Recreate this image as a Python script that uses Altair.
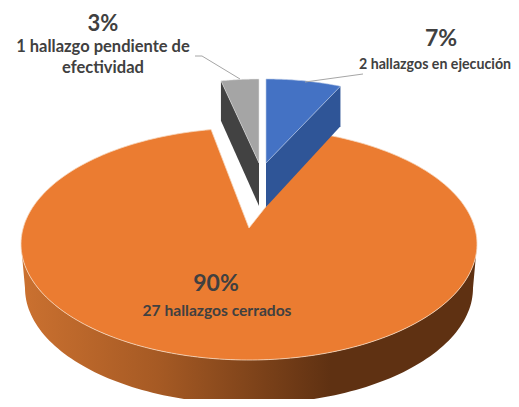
import math
import altair as alt

# ---- values
names = ["2 hallazgos en ejecución", "27 hallazgos cerrados", "1 hallazgo pendiente de efectividad"]
counts = [2, 27, 1]
percents = ["7%", "90%", "3%"]

total = sum(counts)
blue_angle = math.radians(360 * counts[0] / total)
gray_angle = math.radians(360 * counts[2] / total)

PERSPECTIVE = 0.8
OFF = 8  # page margin
W, H = 503, 391


def pt(x, y):
    return [x - OFF, y - OFF]


def arc(cx, cy, rx, ry, a0, a1, n=120):
    out = []
    for i in range(n + 1):
        a = a0 + (a1 - a0) * i / n
        out.append(pt(cx + rx * math.sin(a), cy - ry * math.cos(a)))
    return out


def poly(points):
    return {"type": "Feature", "properties": {},
            "geometry": {"type": "Polygon", "coordinates": [points + [points[0]]]}}


def line(points):
    return {"type": "Feature", "properties": {},
            "geometry": {"type": "LineString", "coordinates": points}}


def shape(feature, **mark):
    return alt.Chart(alt.Data(values=[feature])).mark_geoshape(**mark).project(
        type="identity", scale=1, translate=[0, 0])


# big slice
CX, CY, RX, RY = 249, 244, 228, 116
DEPTH_CY, DEPTH_RX = 288, 224
apex_o = pt(249, 228)
start = math.asin(PERSPECTIVE * math.sin(blue_angle))
end = 2 * math.pi - math.asin(PERSPECTIVE * math.sin(gray_angle))
orange_top = [apex_o] + arc(CX, CY, RX, RY, start, end, 240)
orange_wall = arc(CX, CY, RX, RY, math.pi / 2, 3 * math.pi / 2) + arc(
    CX, DEPTH_CY, DEPTH_RX, RY, 3 * math.pi / 2, math.pi / 2)

# small slices
SR_X, SR_Y = 183, 84
bx, by = 266, 163
gx, gy = 259, 163
DEPTH = 43
blue_top = [pt(bx, by)] + arc(bx, by, SR_X, SR_Y, 0, blue_angle, 30)
bc = (bx + SR_X * math.sin(blue_angle), by - SR_Y * math.cos(blue_angle))
blue_wall = [pt(bx, by), pt(*bc), pt(bc[0], bc[1] + DEPTH - 3), pt(bx, by + DEPTH + 1)]
gray_top = [pt(gx, gy)] + arc(gx, gy, SR_X, SR_Y, -gray_angle, 0, 30)
gc = (gx - SR_X * math.sin(gray_angle), gy - SR_Y * math.cos(gray_angle))
gray_wall = [pt(gx, gy), pt(*gc), pt(gc[0], gc[1] + DEPTH - 3), pt(gx, gy + DEPTH)]

wall_gradient = alt.Gradient(
    gradient="linear", x1=0, x2=1, y1=0, y2=0,
    stops=[alt.GradientStop(offset=0, color="#CB7130"),
           alt.GradientStop(offset=0.30, color="#A65A24"),
           alt.GradientStop(offset=0.68, color="#5F3112"),
           alt.GradientStop(offset=1, color="#5F3112")])

layers = [
    shape(poly(orange_wall), fill=wall_gradient, stroke=None),
    shape(poly(orange_top), fill="#EB7C31", stroke="#F6D8BF", strokeWidth=0.8),
    shape(poly(gray_wall), fill="#424242", stroke=None),
    shape(poly(gray_top), fill="#A5A5A5", stroke="#E6E6E6", strokeWidth=0.5),
    shape(poly(blue_wall), fill="#2F5597", stroke=None),
    shape(poly(blue_top), fill="#4472C4", stroke="#B9C9E6", strokeWidth=0.6),
    shape(line([pt(195, 56), pt(202, 56), pt(240, 79)]), filled=False, stroke="#A6A6A6", strokeWidth=1),
    shape(line([pt(363, 74), pt(305, 82)]), filled=False, stroke="#A6A6A6", strokeWidth=1),
]

FONT = "Lato"
INK = "#404040"


def label(text, x, y, size):
    px, py = pt(x, y)
    return alt.Chart(alt.Data(values=[{"t": text}])).mark_text(
        font=FONT, fontWeight="bold", fontSize=size, color=INK, align="center", baseline="middle"
    ).encode(text="t:N", x=alt.value(px), y=alt.value(py))


first, second = names[2].rsplit(" ", 1)
layers += [
    label(percents[2], 103, 24, 22),
    label(first, 103, 47, 16.5),
    label(second, 103, 68, 16.5),
    label(percents[0], 441, 39, 23),
    label(names[0], 435, 65, 14.2),
    label(percents[1], 216, 284, 23),
    label(names[1], 217, 311, 15.6),
]

chart = alt.layer(*layers).properties(
    width=W, height=H, padding=0, background="white",
    autosize=alt.AutoSizeParams(type="none", contains="padding"),
).configure_view(stroke=None)

chart.save("out.html", embed_options={"renderer": "svg", "actions": False})
